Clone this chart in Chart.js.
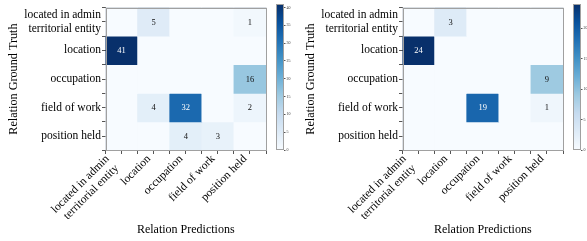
<!DOCTYPE html>
<html><head><meta charset="utf-8">
<script src="https://cdn.jsdelivr.net/npm/chart.js@4/dist/chart.umd.min.js"></script>
<style>
html,body{margin:0;padding:0;background:#fff;width:587px;height:241px;overflow:hidden}
#wrap{position:relative;width:587px;height:241px;overflow:hidden}
canvas{position:absolute;top:0}
</style></head><body>
<div id="wrap">
<canvas id="h1" width="270" height="241" style="left:0;width:270px;height:241px"></canvas>
<canvas id="c1" width="30" height="241" style="left:276px;width:30px;height:241px"></canvas>
<canvas id="h2" width="270" height="241" style="left:297px;width:270px;height:241px"></canvas>
<canvas id="c2" width="30" height="241" style="left:573px;width:30px;height:241px"></canvas>
</div>
<script>
// ---- data ----
const predLabels = [["located in admin","territorial entity"],"location","occupation","field of work","position held"];
const truthLabels = [["located in admin","territorial entity"],"location","occupation","field of work","position held"];
const leftValues = [
  [0, 5, 0, 0, 1],
  [41, 0, 0, 0, 0],
  [0, 0, 0, 0, 16],
  [0, 4, 32, 0, 2],
  [0, 0, 4, 3, 0]
];
const rightValues = [
  [0, 3, 0, 0, 0],
  [24, 0, 0, 0, 0],
  [0, 0, 0, 0, 9],
  [0, 0, 19, 0, 1],
  [0, 0, 0, 0, 0]
];
const leftBarTicks = [0, 5, 10, 15, 20, 25, 30, 35, 40];
const rightBarTicks = [0, 5, 10, 15, 20];

// ---- style ----
const FONT = "'Liberation Serif','Times New Roman',serif";
const TICK_SIZE = 11.5, TICK_LH = 1.15;
const BLUES = ['#f7fbff','#deebf7','#c6dbef','#9ecae1','#6baed6','#4292c6','#2171b5','#08519c','#08306b'];
function hex(h){return [1,3,5].map(k=>parseInt(h.substr(k,2),16));}
function blues(t){
  t=Math.max(0,Math.min(1,t));
  const p=t*(BLUES.length-1), i=Math.min(Math.floor(p),BLUES.length-2), f=p-i;
  const a=hex(BLUES[i]), b=hex(BLUES[i+1]);
  return 'rgb('+a.map((v,k)=>Math.round(v+(b[k]-v)*f)).join(',')+')';
}
const outline = {
  id:'outline',
  afterDraw(chart){
    const a=chart.chartArea, ctx=chart.ctx;
    ctx.save(); ctx.strokeStyle='#a0a0a0'; ctx.lineWidth=1;
    ctx.strokeRect(Math.round(a.left)+0.5,Math.round(a.top)+0.5,Math.round(a.right-a.left)-1,Math.round(a.bottom-a.top)-1);
    ctx.restore();
  }
};
Chart.defaults.font.family = FONT;

// x tick labels rotated 45deg, whole rotated box right-aligned on the tick
const rotatedXLabels = {
  id:'rotatedXLabels',
  afterDraw(chart){
    const sc=chart.scales.x, ctx=chart.ctx, a=chart.chartArea;
    const L=TICK_SIZE*TICK_LH, th=-Math.PI/4, c=Math.cos(th), s=Math.sin(th);
    ctx.save();
    ctx.font=TICK_SIZE+"px "+FONT; ctx.fillStyle='#000';
    ctx.textAlign='right'; ctx.textBaseline='middle';
    predLabels.forEach((lab,j)=>{
      const lines=[].concat(lab);
      let maxX=-1e9, minY=1e9;
      lines.forEach((t,k)=>{
        const w=ctx.measureText(t).width;
        [[-w,k*L],[0,k*L],[-w,(k+1)*L],[0,(k+1)*L]].forEach(([x,y])=>{
          const X=x*c-y*s, Y=x*s+y*c;
          if(X>maxX) maxX=X; if(Y<minY) minY=Y;
        });
      });
      const px=sc.getPixelForValue(j), top=a.bottom+2;
      ctx.save();
      ctx.translate(px-maxX, top-minY);
      ctx.rotate(th);
      lines.forEach((t,k)=>ctx.fillText(t,0,k*L+L/2));
      ctx.restore();
    });
    ctx.restore();
  }
};

// tick positions: cell centres (labelled) and cell boundaries
function cellTicks(n){
  const t=[];
  for(let k=0;k<=2*n;k++) t.push({value:-0.5+k/2});
  return t;
}
const isCentre = v => Number.isInteger(v);
const gridColor = c => (c.tick && !isCentre(c.tick.value)) ? '#c9cdd4' : 'rgba(0,0,0,0)';

function makeHeatmap(id, values){
  const max = Math.max(...values.flat());
  const n = predLabels.length;
  const datasets = values.map((row,i)=>({
    xAxisID:'xi', yAxisID:'y',
    data: row.map((v,j)=>({x:j, y:[i-0.5,i+0.5]})),
    backgroundColor: row.map(v=>blues(v/max)),
    borderWidth:0,
    grouped:false,
    barPercentage:1,
    categoryPercentage:1
  }));
  const cellText = {
    id:'cellText',
    afterDatasetsDraw(chart){
      const ctx=chart.ctx;
      ctx.save();
      ctx.font = "8.5px "+FONT; ctx.textAlign='center'; ctx.textBaseline='middle';
      chart.data.datasets.forEach((ds,i)=>{
        chart.getDatasetMeta(i).data.forEach((el,j)=>{
          const v=values[i][j]; if(!v) return;
          const c=el.getCenterPoint();
          ctx.fillStyle = v>max/2 ? '#ffffff' : '#111111';
          ctx.fillText(String(v), c.x, c.y+0.5);
        });
      });
      ctx.restore();
    }
  };
  new Chart(document.getElementById(id), {
    type:'bar',
    data:{datasets},
    options:{
      responsive:false, animation:false,
      layout:{padding:{left:0,top:4,right:4,bottom:0}},
      plugins:{legend:{display:false}, tooltip:{enabled:false}},
      scales:{
        xi:{axis:'x', type:'linear', display:false, min:-0.5, max:n-0.5, offset:false,
          afterBuildTicks:s=>{s.ticks=predLabels.map((_,j)=>({value:j}));}
        },
        x:{axis:'x', type:'linear', position:'bottom', min:-0.5, max:n-0.5, offset:false, z:1,
          afterBuildTicks:s=>{s.ticks=cellTicks(n);},
          grid:{offset:false, drawOnChartArea:true, color:gridColor, tickColor:'#555', tickLength:3.5},
          border:{display:false},
          ticks:{display:false, callback:v=>isCentre(v)?predLabels[v]:''},
          title:{display:true, text:'Relation Predictions', color:'#000', font:{family:FONT,size:12}, padding:{top:4,bottom:4}},
          afterFit:s=>{s.height=90.5;}
        },
        y:{axis:'y', type:'linear', min:-0.5, max:n-0.5, reverse:true, z:1,
          afterBuildTicks:s=>{s.ticks=cellTicks(n);},
          grid:{drawOnChartArea:true, color:gridColor, tickColor:'#555', tickLength:3.5},
          border:{display:false},
          ticks:{callback:v=>isCentre(v)?truthLabels[v]:'', autoSkip:false, color:'#000', padding:1, font:{family:FONT,size:TICK_SIZE,lineHeight:TICK_LH}},
          title:{display:true, text:'Relation Ground Truth', color:'#000', font:{family:FONT,size:12.2}, padding:{top:6,bottom:4}},
          afterFit:s=>{s.width=105.5;}
        }
      }
    },
    plugins:[cellText, outline, rotatedXLabels]
  });
  return max;
}

function makeColorbar(id, max, tickVals){
  new Chart(document.getElementById(id), {
    type:'bar',
    data:{labels:['scale'], datasets:[{
      data:[[0,max]],
      backgroundColor:c=>{
        const a=c.chart.chartArea; if(!a) return blues(0.5);
        const g=c.chart.ctx.createLinearGradient(0,a.bottom,0,a.top);
        BLUES.forEach((col,k)=>g.addColorStop(k/(BLUES.length-1),col));
        return g;
      },
      borderWidth:0, barPercentage:1, categoryPercentage:1
    }]},
    options:{
      responsive:false, animation:false,
      layout:{padding:{left:0,top:4,right:0,bottom:91}},
      plugins:{legend:{display:false}, tooltip:{enabled:false}},
      scales:{
        x:{display:false, offset:true},
        y:{position:'right', min:0, max:max,
          afterBuildTicks:s=>{s.ticks=tickVals.map(v=>({value:v}));},
          grid:{drawOnChartArea:false, tickLength:2, color:'#555'},
          border:{display:false},
          ticks:{color:'#333', padding:1, font:{family:FONT,size:4}},
          afterFit:s=>{s.width=22.5;}
        }
      }
    },
    plugins:[outline]
  });
}

const m1 = makeHeatmap('h1', leftValues);
makeColorbar('c1', m1, leftBarTicks);
const m2 = makeHeatmap('h2', rightValues);
makeColorbar('c2', m2, rightBarTicks);
</script>
</body></html>
